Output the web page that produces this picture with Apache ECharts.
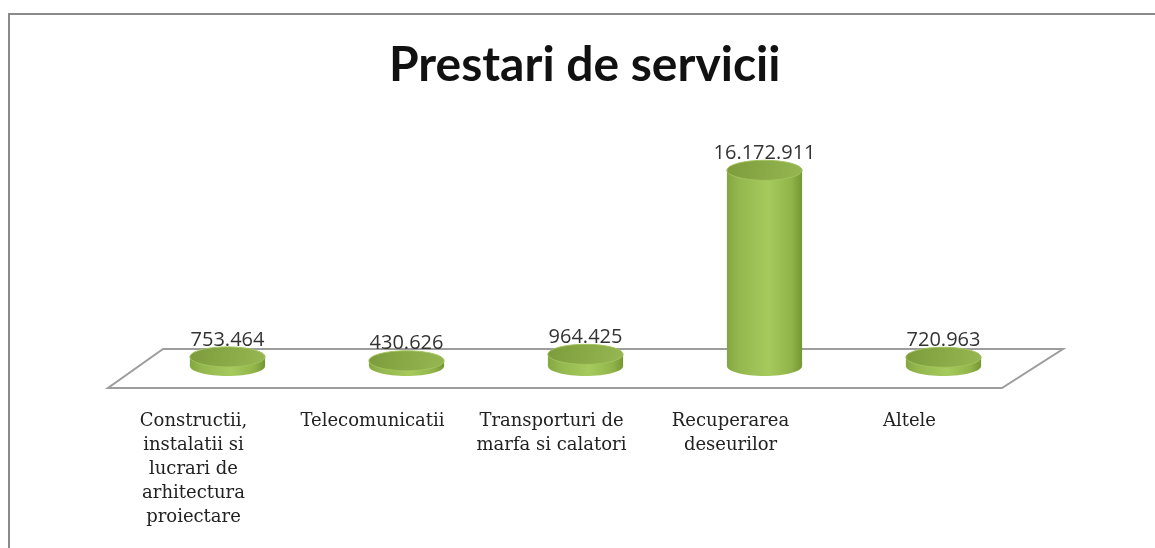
<!DOCTYPE html>
<html>
<head>
<meta charset="utf-8">
<script src="https://cdn.jsdelivr.net/npm/echarts@6/dist/echarts.min.js"></script>
<style>
html,body{margin:0;padding:0;background:#fff;}
#chart{width:1155px;height:548px;}
</style>
</head>
<body>
<div id="chart"></div>
<script>
const titleText = 'Prestari de servicii';
const categories = [
  'Constructii,\ninstalatii si\nlucrari de\narhitectura\nproiectare',
  'Telecomunicatii',
  'Transporturi de\nmarfa si calatori',
  'Recuperarea\ndeseurilor',
  'Altele'
];
const values = [753464, 430626, 964425, 16172911, 720963];

function fmt(v) {
  return String(v).replace(/\B(?=(\d{3})+(?!\d))/g, '.');
}

const chart = echarts.init(document.getElementById('chart'));

const sideFill = {
  type: 'linear', x: 0, y: 0, x2: 1, y2: 0,
  colorStops: [
    { offset: 0, color: '#84a640' },
    { offset: 0.15, color: '#93b74e' },
    { offset: 0.55, color: '#a7ca5d' },
    { offset: 0.85, color: '#92b54b' },
    { offset: 1, color: '#759733' }
  ]
};
const topFill = {
  type: 'linear', x: 0, y: 0, x2: 1, y2: 1,
  colorStops: [
    { offset: 0, color: '#7c9c3c' },
    { offset: 1, color: '#96b751' }
  ]
};

function renderBar(params, api) {
  const idx = api.value(0);
  const val = api.value(1);
  const top = api.coord([idx, val]);
  const base = api.coord([idx, 0]);
  const band = api.size([1, 0])[0];
  const rx = band * 0.21;
  const ry = 10;
  const cx = top[0];
  return {
    type: 'group',
    children: [
      {
        type: 'ellipse',
        shape: { cx: cx, cy: base[1], rx: rx, ry: ry },
        style: { fill: sideFill }
      },
      {
        type: 'rect',
        shape: { x: cx - rx, y: top[1], width: rx * 2, height: base[1] - top[1] },
        style: { fill: sideFill }
      },
      {
        type: 'ellipse',
        shape: { cx: cx, cy: top[1], rx: rx, ry: ry },
        style: { fill: topFill, stroke: '#a3c35e', lineWidth: 1 }
      },
      {
        type: 'text',
        style: {
          text: fmt(val),
          x: cx,
          y: top[1] - ry + 3,
          align: 'center',
          verticalAlign: 'bottom',
          font: '20px "Open Sans"',
          fill: '#333333'
        }
      }
    ]
  };
}

function renderFloor(params, api) {
  const cs = params.coordSys;
  const base = api.coord([0, 0])[1];
  const l = cs.x, r = cs.x + cs.width;
  return {
    type: 'polygon',
    shape: {
      points: [
        [l + 25, base - 17],
        [r + 30, base - 17],
        [r - 31, base + 22],
        [l - 30, base + 22]
      ]
    },
    style: { fill: '#ffffff', stroke: '#9d9d9d', lineWidth: 2 },
    z2: 0
  };
}

chart.setOption({
  animation: false,
  backgroundColor: '#ffffff',
  title: {
    text: titleText,
    left: 384,
    top: 37,
    textStyle: {
      fontFamily: 'Lato',
      fontWeight: 'bold',
      fontSize: 48,
      color: '#111111'
    }
  },
  graphic: [
    {
      type: 'rect',
      shape: { x: 9, y: 14, width: 1300, height: 700 },
      style: { fill: 'none', stroke: '#8a8a8a', lineWidth: 2 },
      silent: true
    }
  ],
  grid: { left: 138, right: 122, top: 124, bottom: 182 },
  xAxis: {
    type: 'category',
    data: categories,
    axisLine: { show: false },
    axisTick: { show: false },
    axisLabel: {
      interval: 0,
      margin: 43,
      fontFamily: 'DejaVu Serif',
      fontSize: 18,
      lineHeight: 24,
      color: '#222222',
      align: 'center',
      padding: [0, 68, 0, 0]
    }
  },
  yAxis: {
    type: 'value',
    min: 0,
    max: 20000000,
    show: false,
    splitLine: { show: false }
  },
  series: [
    {
      type: 'custom',
      z: 1,
      data: [[0, 0]],
      renderItem: renderFloor,
      silent: true
    },
    {
      type: 'custom',
      z: 2,
      data: values.map((v, i) => [i, v]),
      renderItem: renderBar
    }
  ]
});
</script>
</body>
</html>
